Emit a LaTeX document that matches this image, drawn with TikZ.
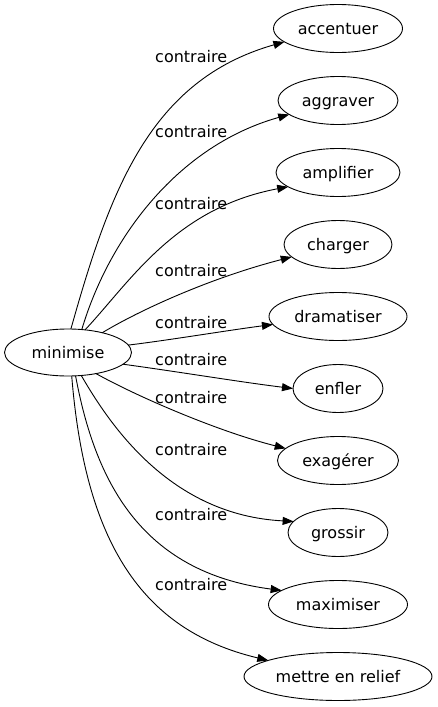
\documentclass[tikz,border=0pt]{standalone}
\usepackage{fontspec}
\setmainfont{DejaVu Sans}
\usetikzlibrary{shapes.geometric,arrows.meta}
\begin{document}
\begin{tikzpicture}[x=1pt,y=-1pt,
  every node/.style={font=\fontsize{16}{19}\selectfont},
  word/.style={draw, ellipse, inner sep=0pt, outer sep=0pt, minimum height=48pt,
    text height=12pt, text depth=0pt, line width=0.9pt},
  lab/.style={anchor=base west, inner sep=0pt},
  rel/.style={line width=0.9pt, -{Triangle[length=11pt,width=8pt]}}]
\useasboundingbox (0,0) rectangle (437,707);

\node[word, minimum width=127pt, minimum height=47pt] (m) at (68,352.5) {minimise};

\node[word, minimum width=129pt] (t1) at (338,28.5) {accentuer};
\node[word, minimum width=120pt] (t2) at (338,100.5) {aggraver};
\node[word, minimum width=124pt] (t3) at (338,172.5) {amplifier};
\node[word, minimum width=108pt] (t4) at (338,244.5) {charger};
\node[word, minimum width=138pt] (t5) at (338,316.5) {dramatiser};
\node[word, minimum width=90pt]  (t6) at (338,388.5) {enfler};
\node[word, minimum width=121pt] (t7) at (338,460.5) {exagérer};
\node[word, minimum width=100pt] (t8) at (338,532.5) {grossir};
\node[word, minimum width=139pt] (t9) at (338,604.5) {maximiser};
\node[word, minimum width=188pt] (t10) at (338,676.5) {mettre en relief};

\draw[rel] (m.83) .. controls (110,190) and (150,80) .. (t1.194);
\draw[rel] (m.59) .. controls (110,235) and (180,145) .. (t2.196);
\draw[rel] (m.53) .. controls (130,282) and (175,208) .. (t3.196);
\draw[rel] (m.30) .. controls (140,310) and (210,278) .. (t4.195);
\draw[rel] (m.7) .. controls (170,340) and (230,330) .. (t5.187);
\draw[rel] (m.348) .. controls (180,372) and (240,382) .. (t6.180);
\draw[rel] (m.323) .. controls (140,398) and (220,432) .. (t7.167);
\draw[rel] (m.300) .. controls (110,425) and (170,515) .. (t8.166);
\draw[rel] (m.288) .. controls (95,480) and (140,572) .. (t9.166);
\draw[rel] (m.279) .. controls (85,540) and (140,630) .. (t10.167);

\node[lab] (l1) at (155,62) {contraire};
\node[lab] (l2) at (155,137) {contraire};
\node[lab] (l3) at (155,209) {contraire};
\node[lab] (l4) at (155,276) {contraire};
\node[lab] (l5) at (155,328) {contraire};
\node[lab] (l6) at (155,365) {contraire};
\node[lab] (l7) at (155,403) {contraire};
\node[lab] (l8) at (155,455) {contraire};
\node[lab] (l9) at (155,520) {contraire};
\node[lab] (l10) at (155,590) {contraire};
\end{tikzpicture}
\end{document}
